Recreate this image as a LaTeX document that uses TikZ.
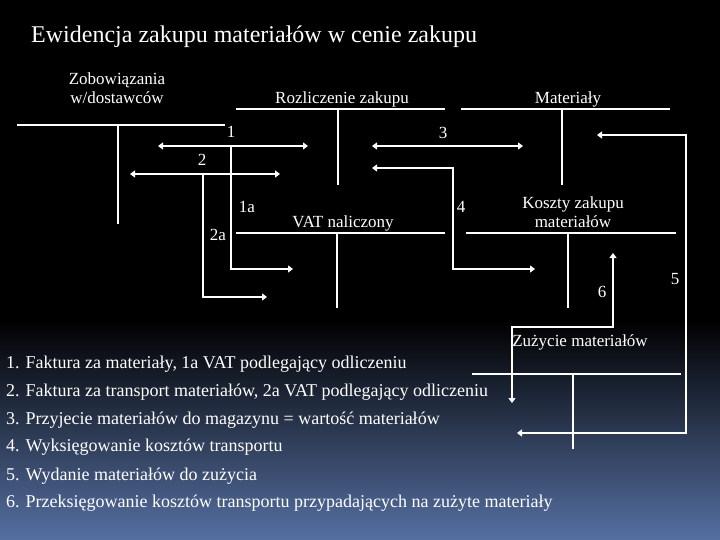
\documentclass[tikz,border=0pt]{standalone}
\usepackage{fontspec}
\setmainfont{Liberation Serif}
\usetikzlibrary{arrows.meta}
\definecolor{tlo}{RGB}{86,112,162}

\begin{document}
\begin{tikzpicture}[x=1pt, y=-1pt,
    >={Triangle[length=5pt, width=7pt]},
    konto/.style={white, line width=1.3pt},
    zapis/.style={white, line width=2.4pt},
    etykieta/.style={white, font=\fontsize{17}{20}\selectfont, inner sep=0pt, align=center},
    opis/.style={white, font=\fontsize{18}{21}\selectfont, inner sep=0pt, anchor=west}]

    % 1. Tlo
    \useasboundingbox (0,0) rectangle (720,540);
    \fill[black] (0,0) rectangle (720,540);
    \shade[top color=black, bottom color=tlo] (0,320) rectangle (720,540);

    % 2. Tytul
    \node[white, font=\fontsize{24}{28}\selectfont, inner sep=0pt, anchor=west] (tytul) at (31,37)
        {Ewidencja zakupu materiałów w cenie zakupu};

    % 3. Konta (T)
    \draw[konto] (17,125) -- (225,125);
    \draw[konto] (118,125) -- (118,224);
    \draw[konto] (236,109) -- (445,109);
    \draw[konto] (338,109) -- (338,185);
    \draw[konto] (461,109) -- (670,109);
    \draw[konto] (562,109) -- (562,185);
    \draw[konto] (236,233) -- (445,233);
    \draw[konto] (337,233) -- (337,308);
    \draw[konto] (466,233) -- (676,233);
    \draw[konto] (568,233) -- (568,308);
    \draw[konto] (472,374) -- (681,374);
    \draw[konto] (573,374) -- (573,449);

    % Nazwy kont
    \node[etykieta] (zob) at (117,88) {Zobowiązania\\[-1pt]w/dostawców};
    \node[etykieta] (rozl) at (342,99) {Rozliczenie zakupu};
    \node[etykieta] (mat) at (568,99) {Materiały};
    \node[etykieta] (vat) at (343,223) {VAT naliczony};
    \node[etykieta] (koszty) at (573,212) {Koszty zakupu\\[-1pt]materiałów};
    \node[etykieta] (zuz) at (580,342) {Zużycie materiałów};

    % 4. Punkty zapisow
    \coordinate (k1l) at (158,146);
    \coordinate (k1p) at (308,146);
    \coordinate (k1v) at (231,146);
    \coordinate (k1a) at (293,269);
    \coordinate (k2l) at (130,174);
    \coordinate (k2p) at (280,174);
    \coordinate (k2v) at (203,174);
    \coordinate (k2a) at (267,297);
    \coordinate (k3l) at (372,146);
    \coordinate (k3p) at (523,146);
    \coordinate (k4l) at (372,168);
    \coordinate (k4r) at (453,269);
    \coordinate (k4p) at (535,269);
    \coordinate (k5g) at (597,135);
    \coordinate (k5r) at (686,433);
    \coordinate (k5d) at (517,433);
    \coordinate (k6d) at (512,403);
    \coordinate (k6r) at (613,327);
    \coordinate (k6g) at (613,253);

    % Strzalki
    \draw[zapis, <->] (k1l) -- (k1p);
    \draw[zapis, ->] (k1v) |- (k1a);
    \draw[zapis, <->] (k2l) -- (k2p);
    \draw[zapis, ->] (k2v) |- (k2a);
    \draw[zapis, <->] (k3l) -- (k3p);
    \draw[zapis, <->] (k4l) -| (k4r) -- (k4p);
    \draw[zapis, <->] (k5g) -| (k5r) -- (k5d);
    \draw[zapis, <->] (k6d) |- (k6r) -- (k6g);

    % Numery operacji
    \node[etykieta] (n1) at (231,132) {1};
    \node[etykieta] (n1a) at (247,207) {1a};
    \node[etykieta] (n2) at (202,160) {2};
    \node[etykieta] (n2a) at (218,235) {2a};
    \node[etykieta] (n3) at (443,133) {3};
    \node[etykieta] (n4) at (461,207) {4};
    \node[etykieta] (n5) at (675,279) {5};
    \node[etykieta] (n6) at (602,292) {6};

    % 5. Opis operacji
    \node[opis] (opis1) at (6,364) {1. Faktura za materiały, 1a VAT podlegający odliczeniu};
    \node[opis] (opis2) at (6,392) {2. Faktura za transport materiałów, 2a VAT podlegający odliczeniu};
    \node[opis] (opis3) at (6,420) {3. Przyjecie materiałów do magazynu = wartość materiałów};
    \node[opis] (opis4) at (6,447) {4. Wyksięgowanie kosztów transportu};
    \node[opis] (opis5) at (6,476) {5. Wydanie materiałów do zużycia};
    \node[opis] (opis6) at (6,503) {6. Przeksięgowanie kosztów transportu przypadających na zużyte materiały};

\end{tikzpicture}
\end{document}
